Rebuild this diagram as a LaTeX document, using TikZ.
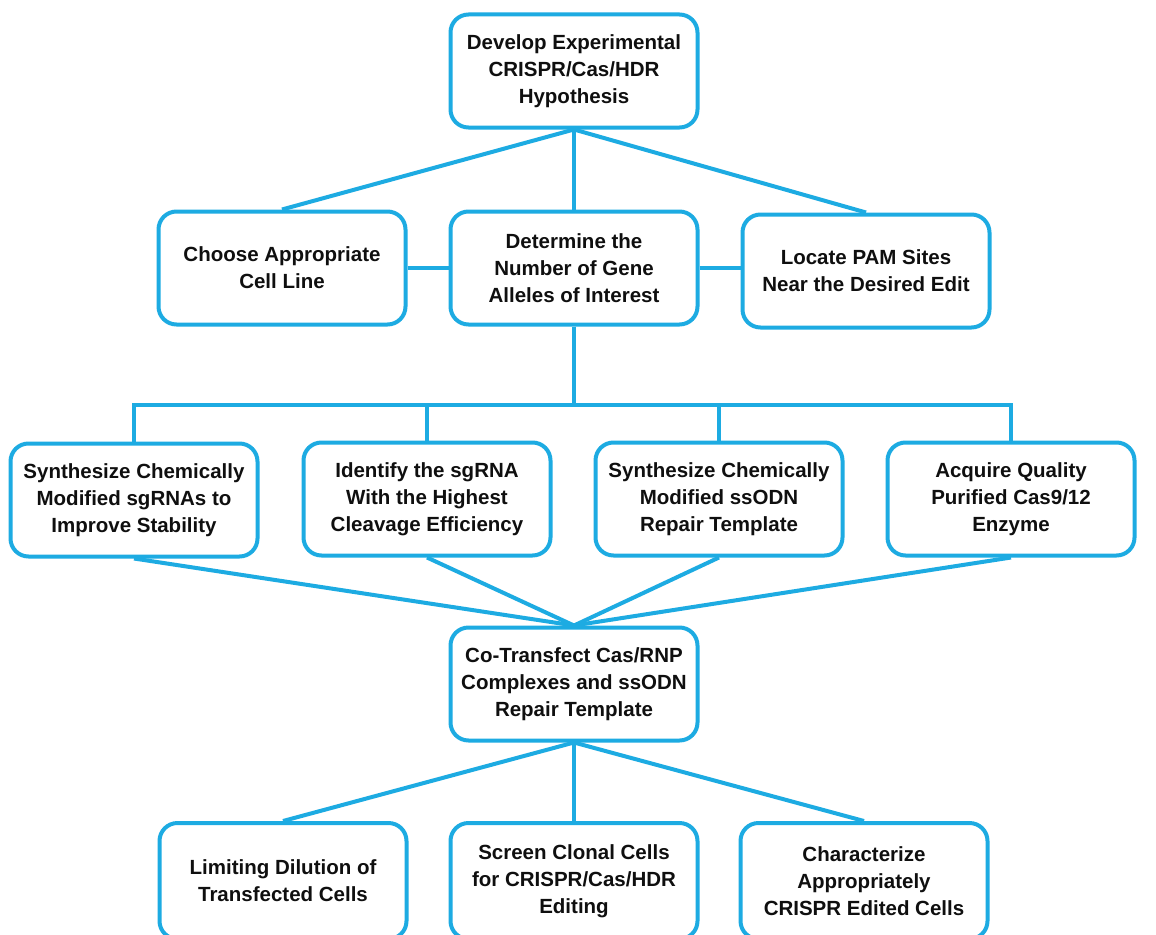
\documentclass[tikz,border=0pt]{standalone}
\usepackage{fontspec}
\setmainfont{Liberation Sans}
\definecolor{cyanc}{RGB}{29,171,226}
\definecolor{txt}{RGB}{15,15,15}
\begin{document}
\begin{tikzpicture}[x=1pt,y=-1pt,
  box/.style={draw=cyanc, line width=4pt, rounded corners=18pt, fill=white,
    minimum width=247pt, minimum height=113pt, align=center, inner sep=0pt,
    text=txt, font=\bfseries\fontsize{20.5}{26.8}\selectfont},
  conn/.style={draw=cyanc, line width=4pt}]
\useasboundingbox (0,0) rectangle (1156,934);
\fill[white] (0,0) rectangle (1156,934);
% nodes
\node[box] (top) at (574,71) {Develop Experimental\\CRISPR/Cas/HDR\\Hypothesis};
\node[box] (cell) at (282,268) {Choose Appropriate\\Cell Line};
\node[box] (alle) at (574,268) {Determine the\\Number of Gene\\Alleles of Interest};
\node[box] (pam) at (866,271) {Locate PAM Sites\\Near the Desired Edit};
\node[box] (s1) at (134,500) {Synthesize Chemically\\Modified sgRNAs to\\Improve Stability};
\node[box] (s2) at (427,499) {Identify the sgRNA\\With the Highest\\Cleavage Efficiency};
\node[box] (s3) at (719,499) {Synthesize Chemically\\Modified ssODN\\Repair Template};
\node[box] (s4) at (1011,499) {Acquire Quality\\Purified Cas9/12\\Enzyme};
\node[box] (co) at (574,684) {Co-Transfect Cas/RNP\\Complexes and ssODN\\Repair Template};
\node[box, minimum height=116pt] (b1) at (283,881) {Limiting Dilution of\\Transfected Cells};
\node[box, minimum height=116pt] (b2) at (574,881) {Screen Clonal Cells\\for CRISPR/Cas/HDR\\Editing};
\node[box, minimum height=116pt] (b3) at (864,881) {Characterize\\Appropriately\\CRISPR Edited Cells};
% connectors
\coordinate (bus) at (574,405);
\path[conn] (top.south) -- (cell.north);
\path[conn] (top.south) -- (alle.north);
\path[conn] (top.south) -- (pam.north);
\path[conn] (cell.east) -- (alle.west);
\path[conn] (alle.east) -- (pam.west |- alle.east);
\path[conn] (alle.south) -- (bus);
\path[conn] (s1.north) -- (s1.north |- bus) -- (s4.north |- bus) -- (s4.north);
\path[conn] (s2.north |- bus) -- (s2.north);
\path[conn] (s3.north |- bus) -- (s3.north);
\path[conn] (s1.south) -- (co.north);
\path[conn] (s2.south) -- (co.north);
\path[conn] (s3.south) -- (co.north);
\path[conn] (s4.south) -- (co.north);
\path[conn] (co.south) -- (b1.north);
\path[conn] (co.south) -- (b2.north);
\path[conn] (co.south) -- (b3.north);
\end{tikzpicture}
\end{document}
